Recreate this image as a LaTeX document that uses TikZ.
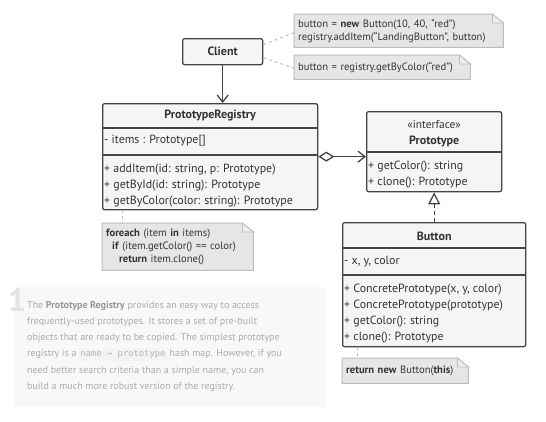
\documentclass[tikz,border=0pt]{standalone}
\usepackage{fontspec}
\setmainfont{PT Sans}
\setmonofont{DejaVu Sans Mono}
\usetikzlibrary{arrows.meta,backgrounds}

\definecolor{inkgray}{HTML}{333333}
\definecolor{edgegray}{HTML}{454545}
\definecolor{boxfill}{HTML}{F5F5F5}
\definecolor{notefill}{HTML}{E6E6E6}
\definecolor{noteedge}{HTML}{BDBDBD}
\definecolor{linkgray}{HTML}{BBBBBB}
\definecolor{blurbfill}{HTML}{F8F8F8}
\definecolor{blurbtext}{HTML}{ABABAB}
\definecolor{blurbbold}{HTML}{969696}
\definecolor{codefill}{HTML}{F3F3F3}
\definecolor{codetext}{HTML}{B5B5B5}
\definecolor{numgray}{HTML}{E3E3E3}

% dog-eared paper behind a note node
\newcommand{\notepaper}[1]{%
  \begin{scope}[on background layer]
    \draw[noteedge, fill=notefill, line width=1pt]
      (#1.north west) -- ([xshift=-11pt]#1.north east) -- ([yshift=-9pt]#1.north east)
      -- (#1.south east) -- (#1.south west) -- cycle;
    \draw[noteedge, fill=notefill!70!white, line width=0.8pt]
      ([xshift=-11pt]#1.north east) -- ([xshift=-11pt,yshift=-9pt]#1.north east)
      -- ([yshift=-9pt]#1.north east) -- cycle;
  \end{scope}}
\newcommand{\codebit}[1]{{\setlength{\fboxsep}{1.5pt}\colorbox{codefill}{\color{codetext}\ttfamily\fontsize{8.8}{9}\selectfont\strut #1}}}
\newcommand{\memberfont}{\fontsize{11.9}{16}\selectfont}

\begin{document}
\begin{tikzpicture}[x=1pt,y=-1pt,
    classbox/.style={draw=edgegray, fill=boxfill, line width=1.3pt, rounded corners=2pt,
      anchor=north west, inner sep=0pt},
    divider/.style={draw=edgegray, line width=1.3pt},
    classname/.style={font=\fontsize{12}{14}\selectfont\bfseries, text=inkgray, inner sep=0pt},
    member/.style={font=\memberfont, text=inkgray, align=left,
      anchor=north west, inner sep=0pt},
    notebox/.style={font=\fontsize{10.6}{13}\selectfont, text=inkgray, align=left,
      anchor=north west, inner xsep=4pt, inner ysep=0pt},
    notelink/.style={draw=linkgray, line width=1pt, dash pattern=on 3pt off 3pt},
    uses/.style={draw=edgegray, line width=1.3pt},
  ]
  \useasboundingbox (0,0) rectangle (546,421);

  % classes
  \node[classbox, minimum width=80pt, minimum height=26pt] (client) at (182,38) {};
  \node[classname] (clientname) at (client.center) {Client};

  \node[classbox, minimum width=215pt, minimum height=106pt] (registry) at (102,103) {};
  \node[classname] (registryname) at ([yshift=-13pt]registry.north) {PrototypeRegistry};
  \draw[divider] ([yshift=-25pt]registry.north west) -- ([yshift=-25pt]registry.north east);
  \draw[divider] ([yshift=-52pt]registry.north west) -- ([yshift=-52pt]registry.north east);
  \node[member] (registryfields) at (104,134.7) {- items : Prototype[]};
  \node[member] (registryops) at (104,164.2) {+ addItem(id: string, p: Prototype)\\
    + getById(id: string): Prototype\\
    + getByColor(color: string): Prototype};

  \node[classbox, minimum width=135pt, minimum height=80pt] (proto) at (366,111) {};
  \node[inner sep=0pt, font=\fontsize{11.4}{12}\selectfont, text=inkgray] (protostereo) at ([yshift=-14pt]proto.north) {«interface»};
  \node[classname] (protoname) at ([yshift=-30pt]proto.north) {Prototype};
  \draw[divider] ([yshift=-41pt]proto.north west) -- ([yshift=-41pt]proto.north east);
  \node[member] (protoops) at (368,161.2) {+ getColor(): string\\
    + clone(): Prototype};

  \node[classbox, minimum width=183pt, minimum height=124pt] (button) at (342,222) {};
  \node[classname] (buttonname) at ([yshift=-14pt]button.north) {Button};
  \draw[divider] ([yshift=-26pt]button.north west) -- ([yshift=-26pt]button.north east);
  \draw[divider] ([yshift=-53pt]button.north west) -- ([yshift=-53pt]button.north east);
  \node[member] (buttonfields) at (344,255.7) {- x, y, color};
  \node[member] (buttonops) at (344,283.7) {+ ConcretePrototype(x, y, color)\\
    + ConcretePrototype(prototype)\\
    + getColor(): string\\
    + clone(): Prototype};

  % notes
  \node[notebox, text width=201pt, minimum height=33pt] (newnote) at (294,14)
    {button = \textbf{new} Button(10, 40, “red”)\\registry.addItem(“LandingButton”, button)};
  \notepaper{newnote}
  \node[notebox, text width=168pt, minimum height=24pt] (getnote) at (294,55)
    {button = registry.getByColor(“red”)};
  \notepaper{getnote}
  \node[notebox, text width=143pt, minimum height=47pt] (loopnote) at (102,223)
    {\textbf{foreach} (item \textbf{in} items)\\
    \hspace*{6pt}\textbf{if} (item.getColor() == color)\\
    \hspace*{13pt}\textbf{return} item.clone()};
  \notepaper{loopnote}
  \node[notebox, text width=118pt, minimum height=25pt] (clonenote) at (342,358)
    {\textbf{return new} Button(\textbf{this})};
  \notepaper{clonenote}

  % connectors
  \draw[uses, -{Straight Barb[length=7pt,width=11pt]}] (client.south) -- (registry.north -| client.south);
  \draw[uses, {Diamond[open,length=16pt,width=10pt]}-{Straight Barb[length=7pt,width=11pt]}]
    (registry.east) -- (registry.east -| proto.west);
  \draw[uses, dash pattern=on 4pt off 3pt, -{Triangle[open,length=12pt,width=12pt]}]
    (button.north) -- (proto.south);
  \draw[notelink] ([yshift=7pt]client.east) -- ([yshift=-2pt]newnote.west);
  \draw[notelink] ([yshift=-6pt]client.east) -- ([yshift=-1pt]getnote.west);
  \draw[notelink] (registry.south west -| loopnote.north west) ++(20,0) coordinate (loopfoot) -- (loopfoot |- loopnote.north);
  \draw[notelink] (button.south west) ++(15,0) coordinate (clonefoot) -- (clonefoot |- clonenote.north);

  % description
  \fill[blurbfill] (14,287) rectangle (326,407);
  \node[anchor=north west, inner sep=0pt, font=\fontsize{32}{32}\selectfont\bfseries, text=numgray] (stepnum) at (8,289) {1};
  \node[anchor=north west, inner sep=0pt, align=left, font=\fontsize{10}{16.2}\selectfont, text=blurbtext] (blurb) at (27,301)
    {The \textcolor{blurbbold}{\textbf{Prototype Registry}} provides an easy way to access\\
    frequently-used prototypes. It stores a set of pre-built\\
    objects that are ready to be copied. The simplest prototype\\
    registry is a \codebit{name → prototype} hash map. However, if you\\
    need better search criteria than a simple name, you can\\
    build a much more robust version of the registry.};
\end{tikzpicture}
\end{document}
